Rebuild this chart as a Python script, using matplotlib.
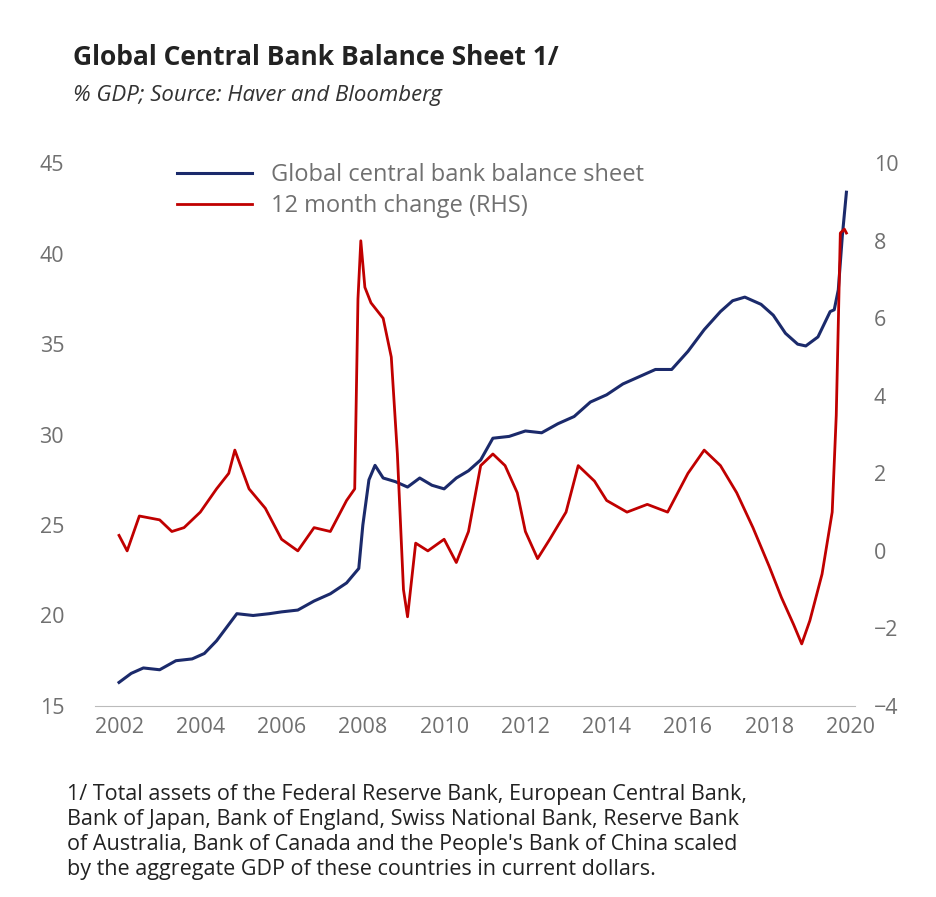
import matplotlib.pyplot as plt

plt.rcParams["font.family"] = "Open Sans"

# Global central bank balance sheet, % GDP (LHS)
bs_years = [2002.0, 2002.3, 2002.6, 2003.0, 2003.4, 2003.8, 2004.1, 2004.4, 2004.7, 2004.9,
            2005.3, 2005.7, 2006.0, 2006.4, 2006.8, 2007.2, 2007.6, 2007.9, 2008.0, 2008.15,
            2008.3, 2008.5, 2008.8, 2009.1, 2009.4, 2009.7, 2010.0, 2010.3, 2010.6, 2010.9,
            2011.2, 2011.6, 2012.0, 2012.4, 2012.8, 2013.2, 2013.6, 2014.0, 2014.4, 2014.8,
            2015.2, 2015.6, 2016.0, 2016.4, 2016.8, 2017.1, 2017.4, 2017.8, 2018.1, 2018.4,
            2018.7, 2018.9, 2019.2, 2019.5, 2019.6, 2019.7, 2019.8, 2019.9]
bs_values = [16.3, 16.8, 17.1, 17.0, 17.5, 17.6, 17.9, 18.6, 19.5, 20.1,
             20.0, 20.1, 20.2, 20.3, 20.8, 21.2, 21.8, 22.6, 25.0, 27.5,
             28.3, 27.6, 27.4, 27.1, 27.6, 27.2, 27.0, 27.6, 28.0, 28.6,
             29.8, 29.9, 30.2, 30.1, 30.6, 31.0, 31.8, 32.2, 32.8, 33.2,
             33.6, 33.6, 34.6, 35.8, 36.8, 37.4, 37.6, 37.2, 36.6, 35.6,
             35.0, 34.9, 35.4, 36.8, 36.9, 38.0, 41.0, 43.4]

# 12 month change, pp (RHS)
ch_years = [2002.0, 2002.2, 2002.5, 2003.0, 2003.3, 2003.6, 2004.0, 2004.4, 2004.7, 2004.85,
            2005.2, 2005.6, 2006.0, 2006.4, 2006.8, 2007.2, 2007.6, 2007.8, 2007.88, 2007.95,
            2008.05, 2008.2, 2008.5, 2008.7, 2008.85, 2009.0, 2009.1, 2009.3, 2009.6, 2010.0,
            2010.3, 2010.6, 2010.9, 2011.2, 2011.5, 2011.8, 2012.0, 2012.3, 2012.6, 2013.0,
            2013.3, 2013.7, 2014.0, 2014.5, 2015.0, 2015.5, 2016.0, 2016.4, 2016.8, 2017.2,
            2017.6, 2018.0, 2018.3, 2018.6, 2018.8, 2019.0, 2019.3, 2019.55, 2019.65, 2019.75,
            2019.85, 2019.9]
ch_values = [0.4, 0.0, 0.9, 0.8, 0.5, 0.6, 1.0, 1.6, 2.0, 2.6,
             1.6, 1.1, 0.3, 0.0, 0.6, 0.5, 1.3, 1.6, 6.5, 8.0,
             6.8, 6.4, 6.0, 5.0, 2.5, -1.0, -1.7, 0.2, 0.0, 0.3,
             -0.3, 0.5, 2.2, 2.5, 2.2, 1.5, 0.5, -0.2, 0.3, 1.0,
             2.2, 1.8, 1.3, 1.0, 1.2, 1.0, 2.0, 2.6, 2.2, 1.5,
             0.6, -0.4, -1.2, -1.9, -2.4, -1.8, -0.6, 1.0, 3.5, 8.2,
             8.3, 8.2]

navy = "#1b2a6b"
red = "#c00000"
grey = "#707070"

fig = plt.figure(figsize=(9.37, 8.97), dpi=100)
ax = fig.add_axes([0.101, 0.213, 0.811, 0.605])
ax2 = ax.twinx()

l1, = ax.plot(bs_years, bs_values, color=navy, lw=2.2)
l2, = ax2.plot(ch_years, ch_values, color=red, lw=2.0)

ax.set_xlim(2001.4, 2020.1)
ax.set_ylim(15, 45)
ax2.set_ylim(-4, 10)
ax.set_xticks(range(2002, 2021, 2))
ax.set_yticks(range(15, 46, 5))
ax2.set_yticks(range(-4, 11, 2))

for a in (ax, ax2):
    for s in a.spines.values():
        s.set_visible(False)
    a.tick_params(length=0, labelsize=15.5, colors=grey, pad=8)
ax.spines["bottom"].set_visible(True)
ax.spines["bottom"].set_color("#bbbbbb")
ax.tick_params(axis="y", pad=22)
ax2.tick_params(axis="y", pad=14)

ax.legend([l1, l2], ["Global central bank balance sheet", "12 month change (RHS)"],
          loc="upper left", bbox_to_anchor=(0.08, 1.04), frameon=False,
          fontsize=17, labelcolor=grey, handlelength=3.2, labelspacing=0.3)

fig.text(0.078, 0.928, "Global Central Bank Balance Sheet 1/", fontsize=19,
         fontweight="bold", color="#222222")
fig.text(0.078, 0.887, "% GDP; Source: Haver and Bloomberg", fontsize=16,
         style="italic", color="#333333")
fig.text(0.072, 0.025,
         "1/ Total assets of the Federal Reserve Bank, European Central Bank,\n"
         "Bank of Japan, Bank of England, Swiss National Bank, Reserve Bank\n"
         "of Australia, Bank of Canada and the People's Bank of China scaled\n"
         "by the aggregate GDP of these countries in current dollars.",
         fontsize=15.5, color="#222222", linespacing=1.25)

fig.savefig("out.png", dpi=100)
